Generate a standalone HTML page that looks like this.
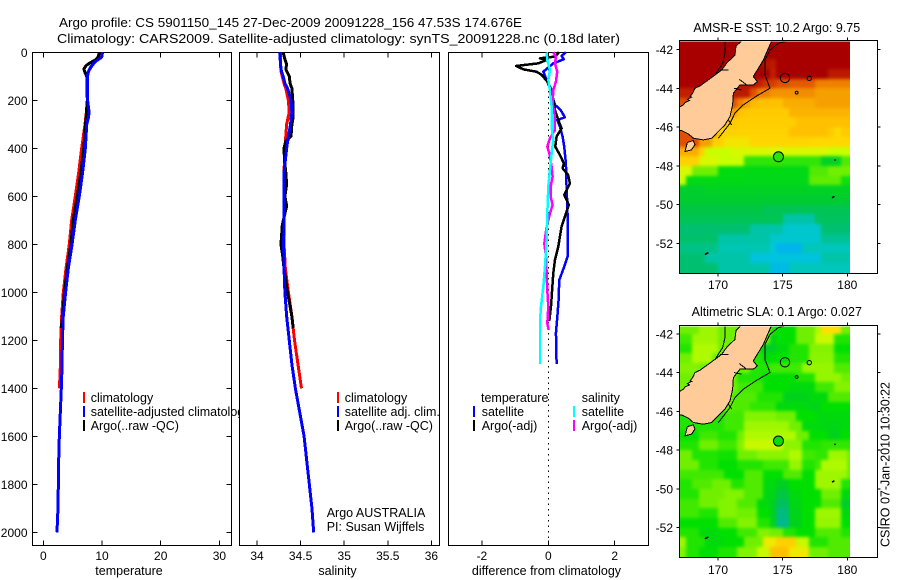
<!DOCTYPE html>
<html>
<head>
<meta charset="utf-8">
<title>Argo profile</title>
<style>
html,body{margin:0;padding:0;background:#fff;width:900px;height:580px;overflow:hidden}
svg{display:block}
text{font-family:"Liberation Sans",sans-serif;font-size:12.5px;fill:#000}
</style>
</head>
<body>
<svg id="fig" xmlns="http://www.w3.org/2000/svg" width="900" height="580" viewBox="0 0 900 580">
<defs>
<filter id="mapBlur" x="-5%" y="-5%" width="110%" height="110%" color-interpolation-filters="sRGB"><feGaussianBlur stdDeviation="1.6"/></filter>
</defs>
<rect width="900" height="580" fill="#fff"/>
<text x="59" y="27" textLength="463" lengthAdjust="spacingAndGlyphs">Argo profile: CS 5901150_145 27-Dec-2009 20091228_156 47.53S 174.676E</text>
<text x="57" y="43" textLength="563" lengthAdjust="spacingAndGlyphs">Climatology: CARS2009. Satellite-adjusted climatology: synTS_20091228.nc (0.18d later)</text>
<g id="layer"></g>
<text x="0" y="0" transform="translate(889.5,547) rotate(-90)" textLength="165" lengthAdjust="spacingAndGlyphs">CSIRO 07-Jan-2010 10:30:22</text>
</svg>
<script>
/* ---------- profile data ---------- */
const depthTicks = [0,200,400,600,800,1000,1200,1400,1600,1800,2000];
const tempTicks = [0,10,20,30];
const salTicks = [34,34.5,35,35.5,36];
const salTickLabels = ['34','34.5','35','35.5','36'];
const diffTicks = [-2,0,2];
const diffTickLabels = ['-2','0','2'];

const tempClimDepth = [0,20,40,60,80,100,200,250,300,400,500,600,700,800,900,1000,1100,1200,1300,1400];
const tempClimValue = [9.55,9.5,8.8,8.2,7.7,7.55,7.5,7.33,7.1,6.54,6.03,5.45,4.83,4.43,3.87,3.41,3.13,2.96,2.92,2.75];
const tempSatDepth = [0,20,40,60,80,100,200,230,250,270,300,400,500,600,700,800,900,1000,1100,1200,1300,1400,1500,1600,1700,1800,1900,2000];
const tempSatValue = [10.1,9.95,8.8,8.1,7.67,7.5,7.55,7.7,7.8,7.7,7.4,7.16,6.7,6.13,5.45,4.9,4.26,3.8,3.4,3.25,3.2,3.07,2.9,2.73,2.62,2.56,2.5,2.33];
const tempArgoDepth = [0,20,30,45,55,70,90,100,200,300,400,500,600,700,800,900,1000,1100,1150];
const tempArgoValue = [9.6,9.3,9.0,7.9,7.3,6.9,7.2,7.4,7.5,7.2,6.9,6.4,5.8,5.1,4.7,4.1,3.6,3.3,3.05];

const salClimDepth = [0,50,80,100,130,150,200,250,300,350,400,500,600,700,800,900,1000,1050,1100,1200,1300,1400];
const salClimValue = [34.27,34.27,34.275,34.29,34.31,34.33,34.36,34.37,34.34,34.33,34.32,34.31,34.31,34.31,34.31,34.325,34.36,34.38,34.4,34.43,34.47,34.51];
const salSatDepth = [0,50,80,100,130,150,200,250,280,300,350,400,500,600,700,800,900,1000,1100,1200,1300,1400,1500,1600,1700,1800,1900,2000];
const salSatValue = [34.26,34.27,34.28,34.3,34.32,34.35,34.39,34.4,34.39,34.385,34.36,34.34,34.31,34.31,34.31,34.305,34.31,34.32,34.34,34.37,34.4,34.44,34.49,34.54,34.57,34.6,34.63,34.65];
const salArgoDepth = [0,30,50,70,100,130,150,200,250,280,300,350,370,400,450,500,550,600,640,680,720,800,850,900,1000,1100,1150];
const salArgoValue = [34.3,34.32,34.34,34.33,34.37,34.38,34.4,34.41,34.41,34.41,34.4,34.39,34.33,34.31,34.315,34.33,34.34,34.32,34.34,34.315,34.29,34.275,34.295,34.31,34.35,34.4,34.415];

const diffTempSatDepth = [0,15,29,46,81,108,150,219,240,271,282,310,351,393,463,560,629,678,851,893,949,1032,1087,1170,1298];
const diffTempSatValue = [.53,.4,.47,.15,-.15,-.07,.05,.2,.37,.5,.27,.35,.43,.48,.53,.55,.57,.58,.58,.48,.33,.31,.28,.23,.25];
const diffTempArgoDepth = [0,18,25,32,46,57,71,81,94,122,157,199,240,282,317,351,393,428,463,483,511,546,594,636,671,726,810,865,921,1060,1120];
const diffTempArgoValue = [.32,.2,-.25,-.05,-.3,-.97,-.75,-.35,-.2,-.03,.1,.15,.2,.3,.4,.25,.21,.35,.47,.43,.6,.65,.48,.62,.53,.4,.3,.2,.15,.08,.03];
const diffSalSatDepth = [0,32,74,115,157,226,310,365,421,490,560,671,782,893,976,1060,1100,1170,1298];
const diffSalSatValue = [-.05,-.03,.05,0,.05,.1,.1,.15,.1,.05,0,-.03,-.05,-.1,-.15,-.22,-.24,-.25,-.25];
const diffSalArgoDepth = [0,18,46,81,122,157,212,268,324,358,393,421,476,518,560,601,636,671,726,796,851,921,990,1060,1130,1157];
const diffSalArgoValue = [.15,.23,.2,.27,.23,.15,.13,.2,.2,.05,-.03,.03,.1,.13,.07,.07,.13,.05,-.05,-.12,-.07,-.05,-.03,0,-.03,.01];

/* ---------- map data: rows north to south (0.5 deg), columns west to east (0.5 deg) ---------- */
const lonTicks = [170,175,180];
const latTicks = [-42,-44,-46,-48,-50,-52];
const gridLonStart = 167;
const gridLatStart = -41.5;
const argoLon = 174.676;
const argoLat = -47.53;
const argoSST = 9.75;
const argoSLA = 0.027;

const sstRows = [
[15,15,15,15,15,15,15,15,15,15,15,15,15,15,15,15,15,15,15,15,15,15,15,15,15,15,15],
[15,15,15,15,15,15,15,15,15,15,15,15,15,15,15,15,15,15,15,15,15,15,15,15,15,15,15],
[15,15,15,15,15,15,15,15,15,15,15,15,15,14.7,14.6,15,15,15,15,15,15,15,15,15,15,15,15],
[15,15,15,15,15,15,15,15,15,15,15,15,15,15,14.5,15,15,15,15,15,15,15,15,14.6,14.6,14.6,14.6],
[15,15,15,15,15,15,15,15,14.7,14.7,14.7,14.7,14.5,14.3,14.2,14,14,13.9,13.9,13.9,13.9,13.5,13.5,13.5,13.5,13.5,13.5],
[14.5,14.5,14.5,14.5,14.5,14.5,14.5,14.5,14.6,14.6,14.6,14,13.5,13.5,13.2,13.2,13.2,13.2,13.3,13.3,13.3,13,13,13,13,13,13],
[14,14,14,14,14,14,14,14,14,13.5,13,12.6,12.5,12.5,12.5,12.5,12.8,12.8,12.8,12.8,12.8,13,13,13,13,13,13],
[13,13,13,13,13,13,13,13,13,12.4,12.2,12.2,12.2,12.2,12.2,12.2,12.2,12.7,12.7,12.7,12.7,12.7,12.7,12.7,12.7,12.7,12.7],
[12.2,12.2,12.2,12.2,12.2,12.2,12.2,12.2,12.2,12.1,12.1,12.1,12.1,12.1,12.1,12.1,12.1,12.1,12.5,12.5,12.5,12.5,12.5,12.5,12.5,12.5,12.5],
[14,14,14,13,13,13,12,12,12,12,12,12,12,12,12,12,12,12.5,12.5,12.5,12.5,12.5,12.5,12.2,11.8,12.2,12.2],
[14,14,14,13,13,12,12,11.5,11.5,11.5,11.5,11.9,11.9,11.9,11.9,11.9,11.9,11.9,11.9,11.9,11.8,11.8,11.8,11.8,11.8,11.8,11.8],
[12.8,12.8,12.8,12,10.8,10.8,10.8,10.8,11,11,11,11,11,11,11,11,11,11,11,11,11,11,11,10.8,10.8,10.8,10.8],
[12,12,12,11,11,11,10.8,10.8,10.8,10.8,9.8,9.8,9.8,9.8,9.8,9.8,9.8,9.8,9.8,9.8,9.8,9.8,9,9,9,10,10],
[11,11,10.2,10.2,10.2,10.2,9.5,9.5,9.5,9.5,9.4,9.4,9.4,9.4,9.4,9.4,9.4,9.4,9.4,9.4,10,10,10,10.2,10.2,10.2,10.2],
[10.8,9.4,9.4,9.4,9.4,9.4,9.4,9.4,9.4,9.4,9.3,9.3,9.3,9.3,9.3,9.3,9.3,9.3,9.3,9.3,10.1,10.1,10.1,10.1,10.1,9.6,9.6],
[8.8,8.8,8.8,8.8,9,9,9,9,9,9,9,9,9,9,9,9,9,9,9,9,9,9,9,9,9,9,9],
[8.7,8.7,8.7,8.7,8.7,8.7,8.7,8.7,8.7,8.7,8.7,8.7,8.7,8.7,8.7,8.7,8.7,8.7,8.7,8.7,8.7,8.7,8.7,8.7,8.7,8.7,8.7],
[8.3,8.3,8.3,8.3,8.3,8.3,8.3,8.3,8.3,8.3,8.3,8.3,8.3,8,8,8,8,8,8,8,8,8,8,8,8,8,8],
[8,8,8,8,8,8,8,8,8,8,8,8,8,8,8,8,7,7,7,7,7,7.8,7.8,7.8,7.8,7.8,7.8],
[7.5,7.5,7.5,7.5,7.5,7.5,7.5,7.5,7.5,7.5,7.5,7,7,7,7,7,6.6,6.6,6.6,6.6,6.6,6.6,7.5,7.5,7.5,7.5,7.5],
[7.6,7.6,7.6,7.6,7.6,7.6,7,7,7,7,7,7,7,7,6.6,6.6,6.6,6.6,6.6,6.6,6.6,6.6,7.2,7.2,7.2,7.2,7.2],
[7.3,7.3,7.3,7.3,7.3,7.3,6.9,6.9,6.9,6.9,6.9,6.9,6.9,6.9,6.5,6.1,6.1,6.1,6.1,6.8,6.8,6.8,6.8,6.8,6.8,6.8,6.8],
[7.5,7.5,7.5,7.5,7,7,7,7,7,7,7,6.4,6.4,6.4,6.4,6.4,6.4,6.4,6.4,6.4,6.4,6.4,7,7,7,7,7],
[7.5,7.5,7.5,7.5,7.5,7.5,7,7,7,7,7,7,7,7,6.2,6.2,6.2,6.8,6.8,6.8,6.8,6.8,6.8,6.8,6.8,6.8,6.8]
];
const slaRows = [
[.1,.1,.1,.15,.15,.15,.1,.1,.1,.1,.1,.1,.1,.1,.05,.03,.03,.03,.1,.1,.1,.17,.27,.27,.27,.1,.1],
[.07,.07,.15,.15,.15,.15,.1,.1,.1,.1,.1,.1,.1,.1,-.03,.03,.03,.03,.1,.1,.1,.2,.2,.2,.05,.05,.05],
[.05,.05,.17,.17,.17,.17,.1,.1,.1,.1,.1,.1,.03,-.06,-.06,0,0,.05,.05,.05,.12,.12,.12,.12,.03,.03,.03],
[.1,.1,.17,.17,.17,.1,.1,.1,.1,.1,.1,.05,.05,0,.03,.03,.03,.05,.05,.05,.13,.13,.13,.13,.05,.05,.05],
[.12,.12,.12,.1,.1,.1,.1,.1,.1,.1,.1,.05,.05,.05,.07,.07,.07,.07,.07,.14,.14,.14,.14,.14,.08,.08,.08],
[.1,.1,.1,.1,.1,.1,.1,.1,.1,.05,.05,.05,.05,.03,.03,.03,.03,.03,.05,.05,.05,.14,.14,.14,.14,.1,.1],
[.1,.1,.1,.1,.1,.1,.1,.1,.1,.07,.07,.07,.07,.03,.03,.03,.03,0,0,0,0,.07,.07,.07,.12,.12,.12],
[.1,.1,.1,.1,.1,.1,.1,.1,.08,.08,.08,.08,.05,.05,.05,.05,-.04,-.04,-.04,-.04,0,0,0,.08,.08,.08,.08],
[.1,.1,.1,.1,.1,.1,.1,.1,.08,.08,.08,.06,.06,.06,.06,0,0,0,0,0,-.03,-.03,.03,.03,.03,.03,.03],
[.05,.05,.05,.05,.05,.05,.05,.07,.07,.07,.12,.12,.12,.12,.12,.1,.1,.1,.03,.03,.03,0,0,0,0,0,0],
[.05,.05,.05,.05,.05,.05,.05,.07,.07,.07,.15,.15,.15,.15,.15,.15,.15,.1,.1,0,0,0,-.02,-.02,-.02,0,0],
[.03,.03,.03,.07,.07,.07,.05,.05,.05,.1,.17,.17,.17,.17,.17,.17,.17,.17,.1,.1,.03,.03,.03,-.04,-.04,.03,.03],
[.05,.05,.05,.1,.1,.1,.07,.07,.07,.12,.2,.2,.2,.2,.2,.2,.13,.13,.13,.05,.05,.05,.06,.06,.06,.06,.06],
[.1,.1,.05,.05,.05,.05,.04,.04,.04,.1,.1,.1,.13,.13,.13,.13,.13,.17,.17,.07,.07,.06,.06,.15,.15,.15,.1],
[.1,.1,.1,.05,.05,.05,.03,.03,.03,.05,.05,.05,.05,.07,.07,.07,.07,.14,.14,.05,.05,.07,.17,.17,.17,.17,.1],
[.07,.07,.07,.07,.07,.07,.07,.03,.03,.03,.08,.08,.08,.03,.03,.03,.08,.08,.08,.03,.03,.15,.15,.15,.15,.15,.1],
[.05,.05,.08,.08,.08,.1,.1,.1,.05,.05,.08,.08,.08,0,0,-.05,-.05,.03,.03,.03,.03,.15,.15,.15,.15,.05,.05],
[.05,.05,.05,.1,.1,.1,.1,.12,.12,.12,.08,.08,.08,-.02,-.02,-.1,-.1,0,0,.03,.03,.03,.1,.1,.1,0,0],
[.07,.07,.07,.1,.1,.1,.12,.12,.12,.08,.08,.08,0,0,-.05,-.15,-.15,-.02,-.02,.03,.03,.03,.08,.08,.08,-.07,-.07],
[.07,.07,.07,.05,.05,.05,.12,.12,.12,.1,.1,.1,.03,.03,-.05,-.2,-.2,-.03,-.03,.03,.03,.15,.15,.15,.15,0,0],
[.03,.03,.03,.03,.03,.03,.08,.08,.08,.12,.12,.12,.05,.05,-.03,-.22,-.22,-.04,-.04,.03,.03,.14,.14,.14,.14,.03,.03],
[.05,.05,.05,0,0,0,.03,.03,.03,.07,.07,.07,.12,.12,.1,.1,.05,.05,.03,.03,.03,.08,.08,.08,.08,.05,.05],
[.15,.05,.05,.05,0,0,0,.03,.03,.03,.1,.1,.1,.25,.25,.3,.3,.3,.2,.2,.05,.05,.05,.08,.08,.08,.08],
[.12,.05,.05,.02,.02,.02,.05,.05,.05,.12,.12,.12,.2,.2,.35,.35,.35,.25,.25,.25,.1,.1,.1,.08,.08,.08,.08]
];

const coastLon = [171.83,171.39,171.31,170.7,170.28,169.77,169.25,168.61,168.22,168.04,167.84,167.97,167.63,167.79,167.45,167.32,167.01,167.01,167.19,167.71,168.09,168.87,169.51,170.03,170.54,170.93,171.13,171.19,171.7,172.73,173.04,172.73,173.12,173.51,174.15];
const coastLat = [-41.54,-41.82,-42.28,-42.67,-43.05,-43.31,-43.56,-43.87,-43.99,-44.25,-44.42,-44.45,-44.56,-44.63,-44.73,-44.85,-44.97,-46.18,-46.18,-46.35,-46.57,-46.66,-46.57,-46.22,-45.88,-45.45,-44.85,-44.25,-43.82,-43.82,-43.65,-43.39,-42.96,-42.53,-41.54];
const stewartLon = [167.45,167.63,168.09,168.22,167.96];
const stewartLat = [-47.26,-46.79,-46.69,-46.91,-47.17];
const eastShelfLon = [175.44,174.66,174.02,173.63,173.63,174.02,172.99,171.96,171.31,170.93,170.03];
const eastShelfLat = [-41.54,-41.67,-42.02,-42.53,-43.31,-43.99,-44.39,-44.85,-45.28,-45.8,-46.57];
const westShelfLon = [170.54,170.54,170.36,169.77];
const westShelfLat = [-41.54,-42.19,-42.7,-43.31];
const inletStartLon = [170.15,171.65,171.24,170.8];
const inletStartLat = [-43.05,-43.53,-43.99,-45.63];
const inletEndLon = [170.8,172.22,171.83,171.06];
const inletEndLat = [-43.05,-43.82,-44.08,-45.88];
const ringLon = [175.18,177.06,176.08];
const ringLat = [-43.46,-43.48,-44.22];
const dotLon = [179.05,178.87,178.95,169.12,169.2,169.04];
const dotLat = [-47.7,-49.63,-49.6,-52.53,-52.5,-52.56];

/* ---------- colour ramps ---------- */
const sstStopValues = [6,6.5,7,7.5,8.5,9.5,10.2,10.8,11.2,11.8,12.5,13,13.5,14,14.5,15];
const sstStopColors = [[0,176,240],[0,200,216],[0,196,168],[0,192,112],[0,200,56],[0,220,16],[112,240,0],[200,255,0],[232,240,0],[255,216,0],[255,192,0],[245,160,0],[240,128,0],[224,80,0],[192,32,0],[168,0,0]];
const slaStopValues = [-.25,-.15,-.05,.03,.1,.17,.22,.27,.33];
const slaStopColors = [[0,184,160],[0,192,96],[0,208,32],[0,224,0],[112,240,0],[176,250,0],[216,248,0],[255,224,0],[255,192,0]];

function rampColor(v, vals, cols){
  if (v <= vals[0]) return 'rgb(' + cols[0].join(',') + ')';
  for (let i = 1; i < vals.length; i++){
    if (v <= vals[i]){
      const f = (v - vals[i-1]) / (vals[i] - vals[i-1]);
      const c = cols[i].map((x, j) => Math.round(cols[i-1][j] + (x - cols[i-1][j]) * f));
      return 'rgb(' + c.join(',') + ')';
    }
  }
  return 'rgb(' + cols[cols.length-1].join(',') + ')';
}

/* ---------- helpers ---------- */
const NS = 'http://www.w3.org/2000/svg';
const layer = document.getElementById('layer');
function mk(tag, attrs, parent, txt){
  const el = document.createElementNS(NS, tag);
  for (const k in attrs) el.setAttribute(k, attrs[k]);
  if (txt !== undefined) el.textContent = txt;
  (parent || layer).appendChild(el);
  return el;
}
function labelText(x, y, s, anchor, parent, name){
  const el = mk('text', {x:x, y:y, 'text-anchor':anchor || 'start'}, parent, s);
  if (name.indexOf('tick-label') >= 0) el.style.fontSize = '12px';
  
  
  return el;
}
const depthY = d => 52.3 + d * 0.24;
const tempX = v => 43.3 + v * 5.87;
const salX = v => 257 + (v - 34) * 87.2;
const diffX = v => 548.3 + v * 33.2;

function drawSeries(parent, depths, values, xf, color, width, name){
  const pts = depths.map((d, i) => xf(values[i]).toFixed(2) + ',' + depthY(d).toFixed(2)).join(' ');
  const el = mk('polyline', {points:pts, fill:'none', stroke:color, 'stroke-width':width, 'shape-rendering':'crispEdges', 'stroke-linejoin':'round'}, parent);
  
  
}
function drawProfilePanel(name, left, right, xf, xTicks, xLabels, xTitle, titleX, showDepth){
  const top = 52.3, bottom = 545.3;
  const g = mk('g', {}, layer);
  
  
  const bg = mk('rect', {x:left, y:top, width:right-left, height:bottom-top, fill:'#fff', stroke:'#000', 'stroke-width':1, 'shape-rendering':'crispEdges'}, g);
  
  
  xTicks.forEach((t, i) => {
    const x = xf(t);
    const tb = mk('line', {x1:x, x2:x, y1:bottom, y2:bottom-5, stroke:'#000', 'shape-rendering':'crispEdges'}, g);
    
    
    const tt = mk('line', {x1:x, x2:x, y1:top, y2:top+5, stroke:'#000', 'shape-rendering':'crispEdges'}, g);
    
    
    labelText(x, 560, xLabels[i], 'middle', g, 'x-tick-label');
  });
  labelText(titleX, 575, xTitle, 'middle', g, 'x-axis-title');
  if (showDepth){
    depthTicks.forEach(d => {
      const y = depthY(d);
      const tl = mk('line', {x1:left, x2:left+5, y1:y, y2:y, stroke:'#000', 'shape-rendering':'crispEdges'}, g);
      
      
      const tr = mk('line', {x1:right-5, x2:right, y1:y, y2:y, stroke:'#000', 'shape-rendering':'crispEdges'}, g);
      
      
      labelText(27.5, y + 4.5, String(d), 'end', g, 'y-tick-label');
    });
  }
  return g;
}
function legendEntry(parent, swatchX, textX, baseY, color, s, name){
  if (color){
    const sw = mk('rect', {x:swatchX, y:baseY-10, width:2, height:11, fill:color, 'shape-rendering':'crispEdges'}, parent);
    
    
  }
  labelText(textX, baseY, s, 'start', parent, name);
}

/* ---------- temperature panel ---------- */
const p1 = drawProfilePanel('temperature-panel', 32.5, 231.5, tempX, tempTicks, tempTicks.map(String), 'temperature', 129, true);
drawSeries(p1, tempClimDepth, tempClimValue, tempX, '#f00', 3, 'temperature-climatology-line');
drawSeries(p1, tempArgoDepth, tempArgoValue, tempX, '#000', 3, 'temperature-argo-line');
drawSeries(p1, tempSatDepth, tempSatValue, tempX, '#00f', 3, 'temperature-satellite-line');
legendEntry(p1, 83, 90.7, 402, '#f00', 'climatology', 'legend-climatology');
legendEntry(p1, 83, 90.7, 416, '#00f', 'satellite-adjusted climatology', 'legend-satellite-adjusted');
legendEntry(p1, 83, 90.7, 430, '#000', 'Argo(..raw -QC)', 'legend-argo');

/* ---------- salinity panel ---------- */
const p2 = drawProfilePanel('salinity-panel', 239.5, 439.5, salX, salTicks, salTickLabels, 'salinity', 337.5, false);
drawSeries(p2, salClimDepth, salClimValue, salX, '#f00', 3, 'salinity-climatology-line');
drawSeries(p2, salArgoDepth, salArgoValue, salX, '#000', 3, 'salinity-argo-line');
drawSeries(p2, salSatDepth, salSatValue, salX, '#00f', 3, 'salinity-satellite-line');
legendEntry(p2, 337, 344.7, 402, '#f00', 'climatology', 'legend-climatology');
legendEntry(p2, 337, 344.7, 416, '#00f', 'satellite adj. clim.', 'legend-satellite-adjusted');
legendEntry(p2, 337, 344.7, 430, '#000', 'Argo(..raw -QC)', 'legend-argo');
labelText(326.7, 517, 'Argo AUSTRALIA', 'start', p2, 'argo-country-note');
labelText(326.7, 531, 'PI: Susan Wijffels', 'start', p2, 'principal-investigator-note');

/* ---------- difference panel ---------- */
const p3 = drawProfilePanel('difference-panel', 448.5, 648.5, diffX, diffTicks, diffTickLabels, 'difference from climatology', 546.5, false);
const zeroLine = mk('line', {x1:diffX(0), x2:diffX(0), y1:52.3, y2:545.3, stroke:'#000', 'stroke-width':1, 'stroke-dasharray':'1.5 4', 'shape-rendering':'crispEdges'}, p3);


drawSeries(p3, diffTempSatDepth, diffTempSatValue, diffX, '#00f', 2.5, 'difference-temperature-satellite-line');
drawSeries(p3, diffTempArgoDepth, diffTempArgoValue, diffX, '#000', 2.5, 'difference-temperature-argo-line');
drawSeries(p3, diffSalArgoDepth, diffSalArgoValue, diffX, '#f0f', 2.5, 'difference-salinity-argo-line');
drawSeries(p3, diffSalSatDepth, diffSalSatValue, diffX, '#0ff', 2.5, 'difference-salinity-satellite-line');
legendEntry(p3, 473, 481, 402, null, 'temperature', 'legend-temperature-heading');
legendEntry(p3, 473, 481.7, 416, '#00f', 'satellite', 'legend-temperature-satellite');
legendEntry(p3, 473, 481.7, 430, '#000', 'Argo(-adj)', 'legend-temperature-argo');
legendEntry(p3, 573, 581.7, 402, null, 'salinity', 'legend-salinity-heading');
legendEntry(p3, 573, 581.7, 416, '#0ff', 'satellite', 'legend-salinity-satellite');
legendEntry(p3, 573, 581.7, 430, '#f0f', 'Argo(-adj)', 'legend-salinity-argo');

/* ---------- maps ---------- */
function polyPts(lons, lats, lx, ly){
  return lons.map((v, i) => lx(v).toFixed(2) + ',' + ly(lats[i]).toFixed(2)).join(' ');
}
function drawMap(name, clipId, top, bottom, y42, rows, stopVals, stopCols, argoVal, title, titleBase, labelBase){
  const left = 679.5, right = 877.5, imgRight = 850;
  const edgePad = 10;
  const lonX = v => 718 + (v - 170) * 12.93;
  const latY = v => y42 + (-42 - v) * 19.36;
  const g = mk('g', {}, layer);
  
  
  const defs = mk('defs', {}, g);
  const cp = mk('clipPath', {id:clipId}, defs);
  mk('rect', {x:left, y:top+1, width:imgRight-left, height:bottom-top-1}, cp);
  const data = mk('g', {'clip-path':'url(#' + clipId + ')'}, g);
  
  
  const cells = mk('g', {filter:'url(#mapBlur)'}, data);
  
  
  rows.forEach((row, r) => {
    row.forEach((v, c) => {
      const lon = gridLonStart + c * 0.5;
      const lat = gridLatStart - r * 0.5;
      let x0 = Math.round(lonX(lon)), x1 = Math.round(lonX(lon + 0.5));
      let y0 = Math.round(latY(lat)), y1 = Math.round(latY(lat - 0.5));
      if (c === 0) x0 -= edgePad;
      if (c === row.length - 1) x1 += edgePad;
      if (r === 0) y0 -= edgePad;
      if (r === rows.length - 1) y1 += edgePad;
      const cell = mk('rect', {x:x0, y:y0, width:x1-x0, height:y1-y0, fill:rampColor(v, stopVals, stopCols), 'shape-rendering':'crispEdges'}, cells);
      
      
    });
  });
  const land = mk('polygon', {points:polyPts(coastLon, coastLat, lonX, latY), fill:'#ffcc99', stroke:'#000', 'stroke-width':1, 'shape-rendering':'crispEdges'}, data);
  
  
  const stew = mk('polygon', {points:polyPts(stewartLon, stewartLat, lonX, latY), fill:'#ffcc99', stroke:'#000', 'stroke-width':1, 'shape-rendering':'crispEdges'}, data);
  
  
  const east = mk('polyline', {points:polyPts(eastShelfLon, eastShelfLat, lonX, latY), fill:'none', stroke:'#000', 'stroke-width':1, 'shape-rendering':'crispEdges'}, data);
  
  
  const west = mk('polyline', {points:polyPts(westShelfLon, westShelfLat, lonX, latY), fill:'none', stroke:'#000', 'stroke-width':1, 'shape-rendering':'crispEdges'}, data);
  
  
  inletStartLon.forEach((lon, i) => {
    const inlet = mk('line', {x1:lonX(lon), y1:latY(inletStartLat[i]), x2:lonX(inletEndLon[i]), y2:latY(inletEndLat[i]), stroke:'#000', 'stroke-width':1, 'shape-rendering':'crispEdges'}, data);
    
    
  });
  const ringSizes = [4.7, 2.2, 1.4];
  ringLon.forEach((lon, i) => {
    const ring = mk('circle', {cx:lonX(lon), cy:latY(ringLat[i]), r:ringSizes[i], fill:'none', stroke:'#000', 'stroke-width':1}, data);
    
    
  });
  dotLon.forEach((lon, i) => {
    const dot = mk('circle', {cx:lonX(lon), cy:latY(dotLat[i]), r:0.9, fill:'#000'}, data);
    
    
  });
  const marker = mk('circle', {cx:lonX(argoLon), cy:latY(argoLat), r:5, fill:rampColor(argoVal, stopVals, stopCols), stroke:'#000', 'stroke-width':1}, data);
  
  
  const frame = mk('rect', {x:left, y:top, width:right-left, height:bottom-top, fill:'none', stroke:'#000', 'shape-rendering':'crispEdges'}, g);
  
  
  lonTicks.forEach(t => {
    const x = lonX(t);
    const a = mk('line', {x1:x, x2:x, y1:top-3, y2:top, stroke:'#000', 'shape-rendering':'crispEdges'}, g);
    
    
    const b = mk('line', {x1:x, x2:x, y1:bottom, y2:bottom+3, stroke:'#000', 'shape-rendering':'crispEdges'}, g);
    
    
    labelText(x, labelBase, String(t), 'middle', g, 'lon-tick-label');
  });
  latTicks.forEach(t => {
    const y = latY(t);
    const a = mk('line', {x1:left-3, x2:left, y1:y, y2:y, stroke:'#000', 'shape-rendering':'crispEdges'}, g);
    
    
    const b = mk('line', {x1:right, x2:right+3, y1:y, y2:y, stroke:'#000', 'shape-rendering':'crispEdges'}, g);
    
    
    labelText(673, y + 4.5, String(t), 'end', g, 'lat-tick-label');
  });
  labelText(776.8, titleBase, title, 'middle', g, name + '-title');
}
drawMap('sst-map', 'clipSst', 40.5, 273.5, 49.7, sstRows, sstStopValues, sstStopColors, argoSST, 'AMSR-E SST: 10.2 Argo: 9.75', 32, 289);
drawMap('sla-map', 'clipSla', 325.5, 557.5, 334, slaRows, slaStopValues, slaStopColors, argoSLA, 'Altimetric SLA: 0.1 Argo: 0.027', 316, 574);
</script>
</body>
</html>
